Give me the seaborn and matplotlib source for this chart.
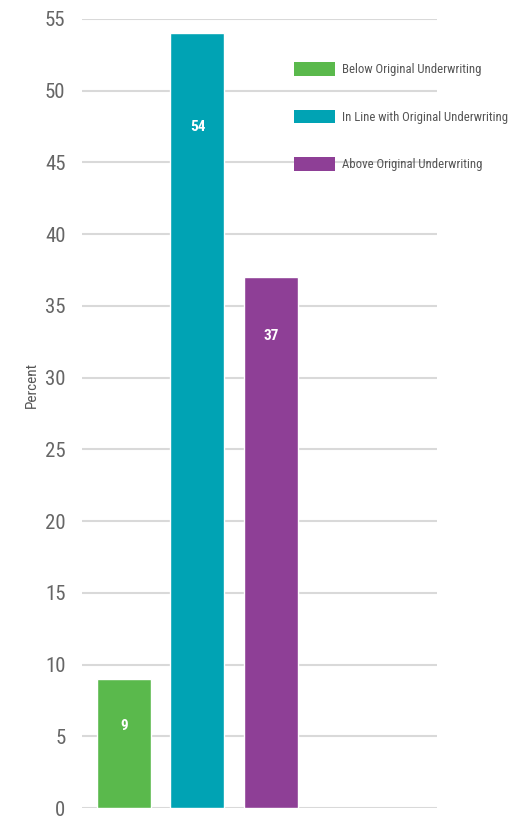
import matplotlib
matplotlib.use("Agg")
import matplotlib.pyplot as plt
import matplotlib.patches as mpatches
import seaborn as sns
import pandas as pd
from matplotlib import font_manager

categories = ["Below Original Underwriting", "In Line with Original Underwriting", "Above Original Underwriting"]
values = [9, 54, 37]
colors = ["#5ab94c", "#00a3b4", "#8e3f96"]
yticks = [0, 5, 10, 15, 20, 25, 30, 35, 40, 45, 50, 55]

sns.set_style("white")
names = {f.name for f in font_manager.fontManager.ttflist}
fam = [f for f in ["Roboto Condensed", "Liberation Sans Narrow", "DejaVu Sans Condensed"] if f in names]
plt.rcParams["font.family"] = fam + ["DejaVu Sans"]

df = pd.DataFrame({"category": categories, "value": values})

fig = plt.figure(figsize=(5.26, 8.16), dpi=100)
ax = fig.add_axes([0.156, 0.0098, 0.675, 0.967])
sns.barplot(data=df, x="category", y="value", hue="category", palette=colors,
            width=0.735, legend=False, ax=ax, saturation=1)

ax.set_xlim(-0.57, 4.26)
ax.set_ylim(0, 55)
ax.set_yticks(yticks)
ax.set_yticklabels([str(t) for t in yticks], fontsize=15, color="#666666")
ax.set_xticks([])
ax.set_xlabel("")
ax.set_ylabel("Percent", fontsize=11, color="#555555", labelpad=4)
ax.yaxis.label.set_y(0.536)
ax.tick_params(axis="y", length=0, pad=12)
ax.yaxis.grid(True, color="#d9d9d9", linewidth=1.5)
ax.set_axisbelow(True)
for s in ax.spines.values():
    s.set_visible(False)

# value labels inside bars, a little below each bar top
offsets = [3.3, 6.5, 4.1]
for i, (v, off) in enumerate(zip(values, offsets)):
    ax.text(i, v - off, str(v), ha="center", va="center", color="white",
            fontsize=11, fontweight="bold")

handles = [mpatches.Patch(facecolor=c, edgecolor="none", label=l) for c, l in zip(colors, categories)]
fig.legend(handles=handles, loc="upper left", bbox_to_anchor=(0.538, 0.938),
           frameon=False, fontsize=9.2, handlelength=3.2, handleheight=1.3,
           handletextpad=0.5, labelspacing=2.6, labelcolor="#555555")

fig.savefig("out.png", dpi=100)
